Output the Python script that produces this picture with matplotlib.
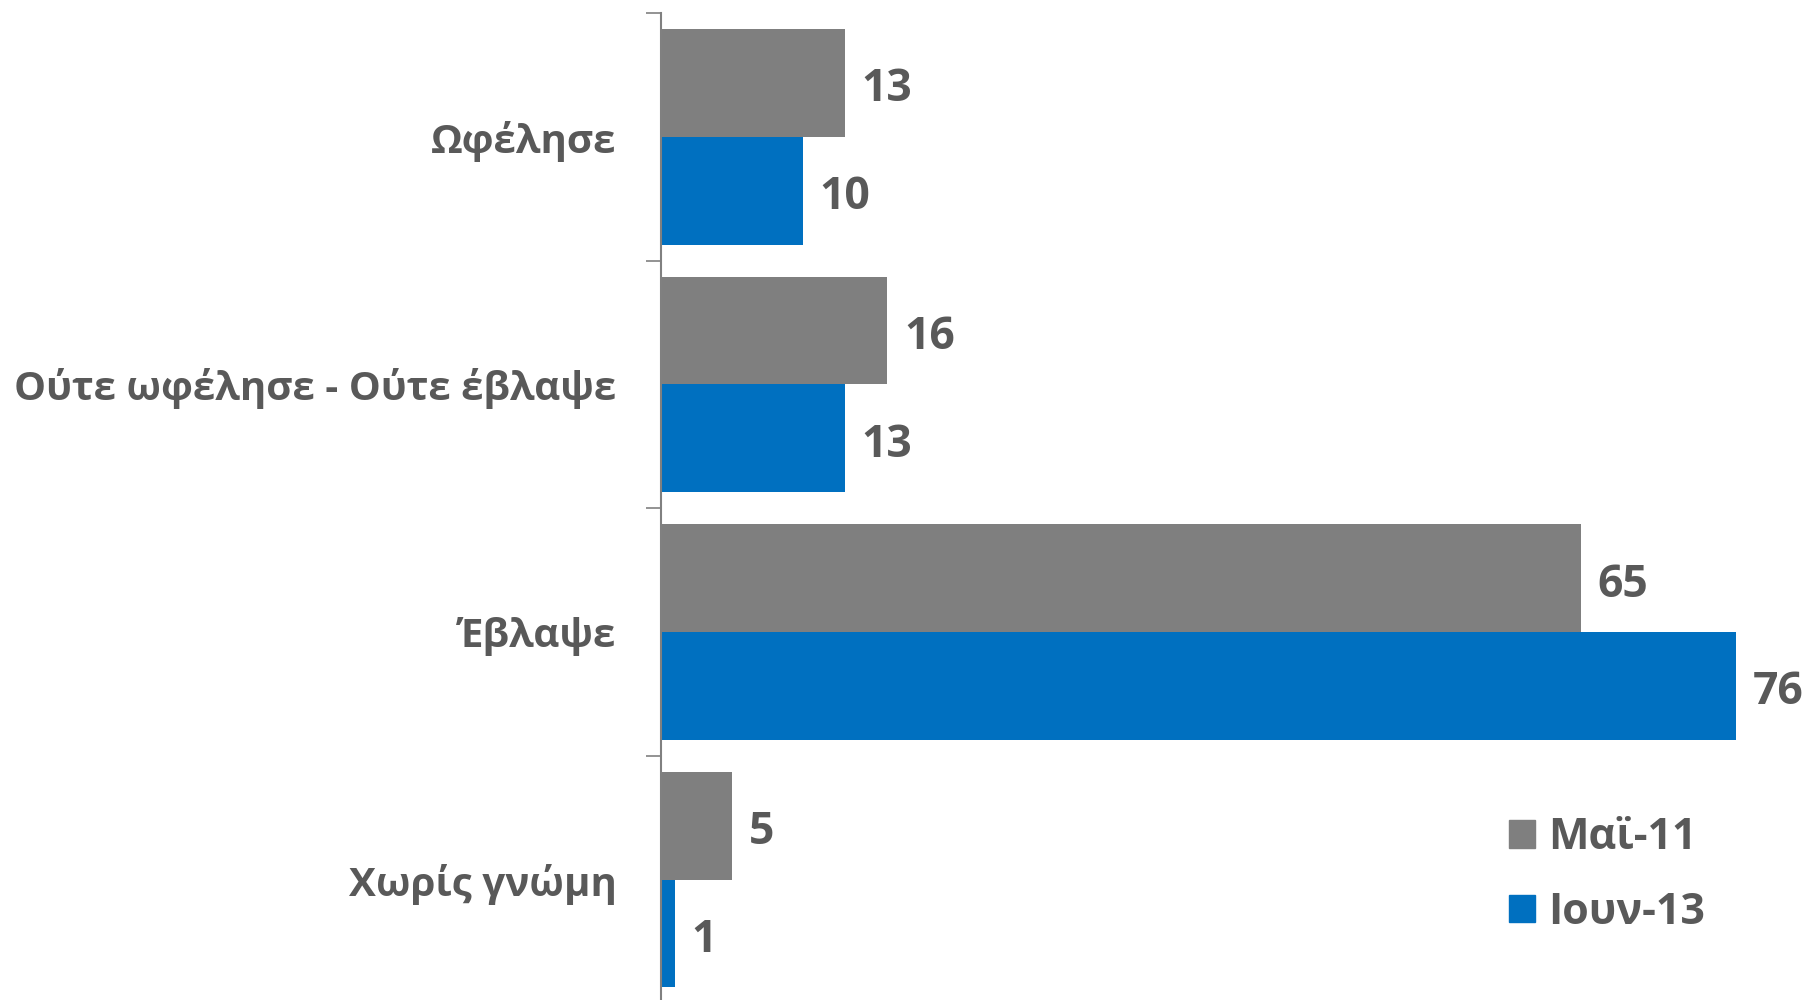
import matplotlib.pyplot as plt
import numpy as np
from matplotlib.patches import Patch

categories = ['Ωφέλησε', 'Ούτε ωφέλησε - Ούτε έβλαψε', 'Έβλαψε', 'Χωρίς γνώμη']
may11 = [13, 16, 65, 5]
jun13 = [10, 13, 76, 1]
series_names = ['Μαϊ-11', 'Ιουν-13']

GRAY = '#7F7F7F'
BLUE = '#0070C0'
TEXT = '#595959'

plt.rcParams['font.family'] = ['Open Sans', 'DejaVu Sans']

fig = plt.figure(figsize=(18.11, 10), dpi=100)
ax = fig.add_axes([661 / 1811, -0.0035, 1132 / 1811, 0.9905])

y = np.arange(len(categories))
h = 0.435
b1 = ax.barh(y - h / 2, may11, height=h, color=GRAY)
b2 = ax.barh(y + h / 2, jun13, height=h, color=BLUE)

for bars, vals in ((b1, may11), (b2, jun13)):
    for bar, v in zip(bars, vals):
        ax.annotate(str(v), (bar.get_width(), bar.get_y() + bar.get_height() / 2),
                    xytext=(12, -5), textcoords='offset points', va='center', ha='left',
                    fontsize=32, fontweight='bold', color=TEXT)

ax.set_xlim(0, 80)
ax.set_ylim(len(categories) - 0.5, -0.5)
ax.set_yticks(y)
ax.set_yticklabels(categories, fontsize=29, fontweight='bold', color=TEXT)
ax.set_yticks(np.arange(len(categories) + 1) - 0.5, minor=True)
ax.tick_params(axis='y', which='major', length=0, pad=32)
ax.tick_params(axis='y', which='minor', length=11, color='#808080', width=1.2)
ax.set_xticks([])
for s in ('top', 'right', 'bottom'):
    ax.spines[s].set_visible(False)
ax.spines['left'].set_color('#808080')
ax.spines['left'].set_linewidth(1.5)

handles = [Patch(color=GRAY), Patch(color=BLUE)]
leg = ax.legend(handles, series_names, loc='upper left', bbox_to_anchor=(1470 / 1811, 1 - 777 / 1000),
                bbox_transform=fig.transFigure, frameon=False,
                prop={'weight': 'bold', 'size': 31}, handlelength=0.62, handleheight=0.62,
                handletextpad=0.3, labelspacing=0.74)
for t in leg.get_texts():
    t.set_color(TEXT)

fig.savefig('out.png', dpi=100)
